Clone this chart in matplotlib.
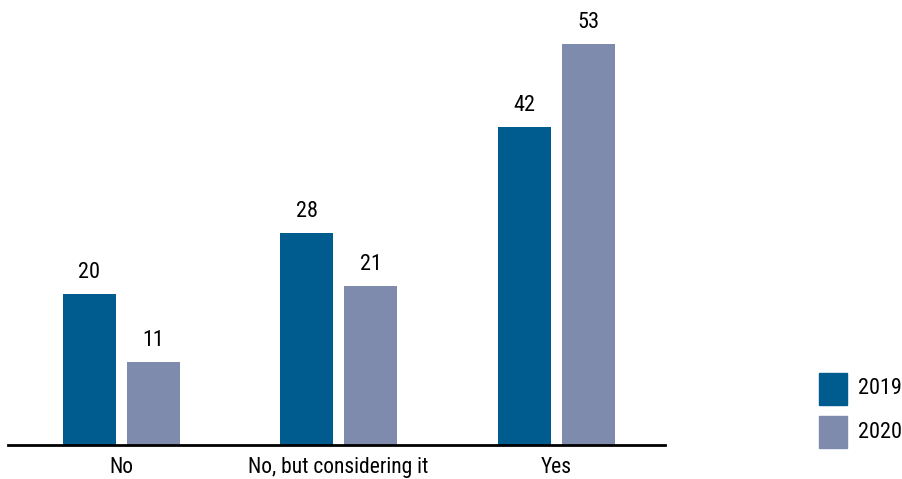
import matplotlib
matplotlib.use("Agg")
import matplotlib.pyplot as plt
import numpy as np
from matplotlib import font_manager
from matplotlib.patches import Rectangle

categories = ["No", "No, but considering it", "Yes"]
series_names = ["2019", "2020"]
values_2019 = [20, 28, 42]
values_2020 = [11, 21, 53]
colors = ["#005b8e", "#7e8bad"]

names = {f.name for f in font_manager.fontManager.ttflist}
fam = [f for f in ["Liberation Sans Narrow", "Roboto Condensed", "Roboto", "DejaVu Sans"] if f in names]
plt.rcParams['font.family'] = fam

fig = plt.figure(figsize=(9.02, 4.79), dpi=100)
ax = fig.add_axes([8/902, 34/479, 657/902, 445/479])

x = np.arange(len(categories))
w = 0.244
off = 0.147
for i, (vals, c, name) in enumerate(zip([values_2019, values_2020], colors, series_names)):
    pos = x + (-off if i == 0 else off)
    bars = ax.bar(pos, vals, width=w, color=c, label=name)
    for b, v in zip(bars, vals):
        ax.annotate(str(v), (b.get_x() + b.get_width()/2, v), xytext=(0, 8),
                    textcoords="offset points", ha="center", va="bottom", fontsize=16)

ax.set_xlim(-0.52, 2.50)
ax.set_ylim(0, 58.8)
ax.set_xticks(x)
ax.set_xticklabels(categories, fontsize=15.5)
ax.tick_params(axis='x', length=0, pad=8.5)
ax.set_yticks([])
for s in ["top", "right", "left"]:
    ax.spines[s].set_visible(False)
ax.spines["bottom"].set_linewidth(2)
ax.spines["bottom"].set_color("black")

# legend
H = 479.0
for k, (name, c) in enumerate(zip(series_names, colors)):
    top = 373 + k * 43
    fig.add_artist(Rectangle((819/902, 1 - (top + 32)/H), 28/902, 32/H,
                             transform=fig.transFigure, color=c))
    fig.text(858/902, 1 - (top + 16)/H, name, fontsize=16, ha="left", va="center")

fig.savefig("out.png", dpi=100)
